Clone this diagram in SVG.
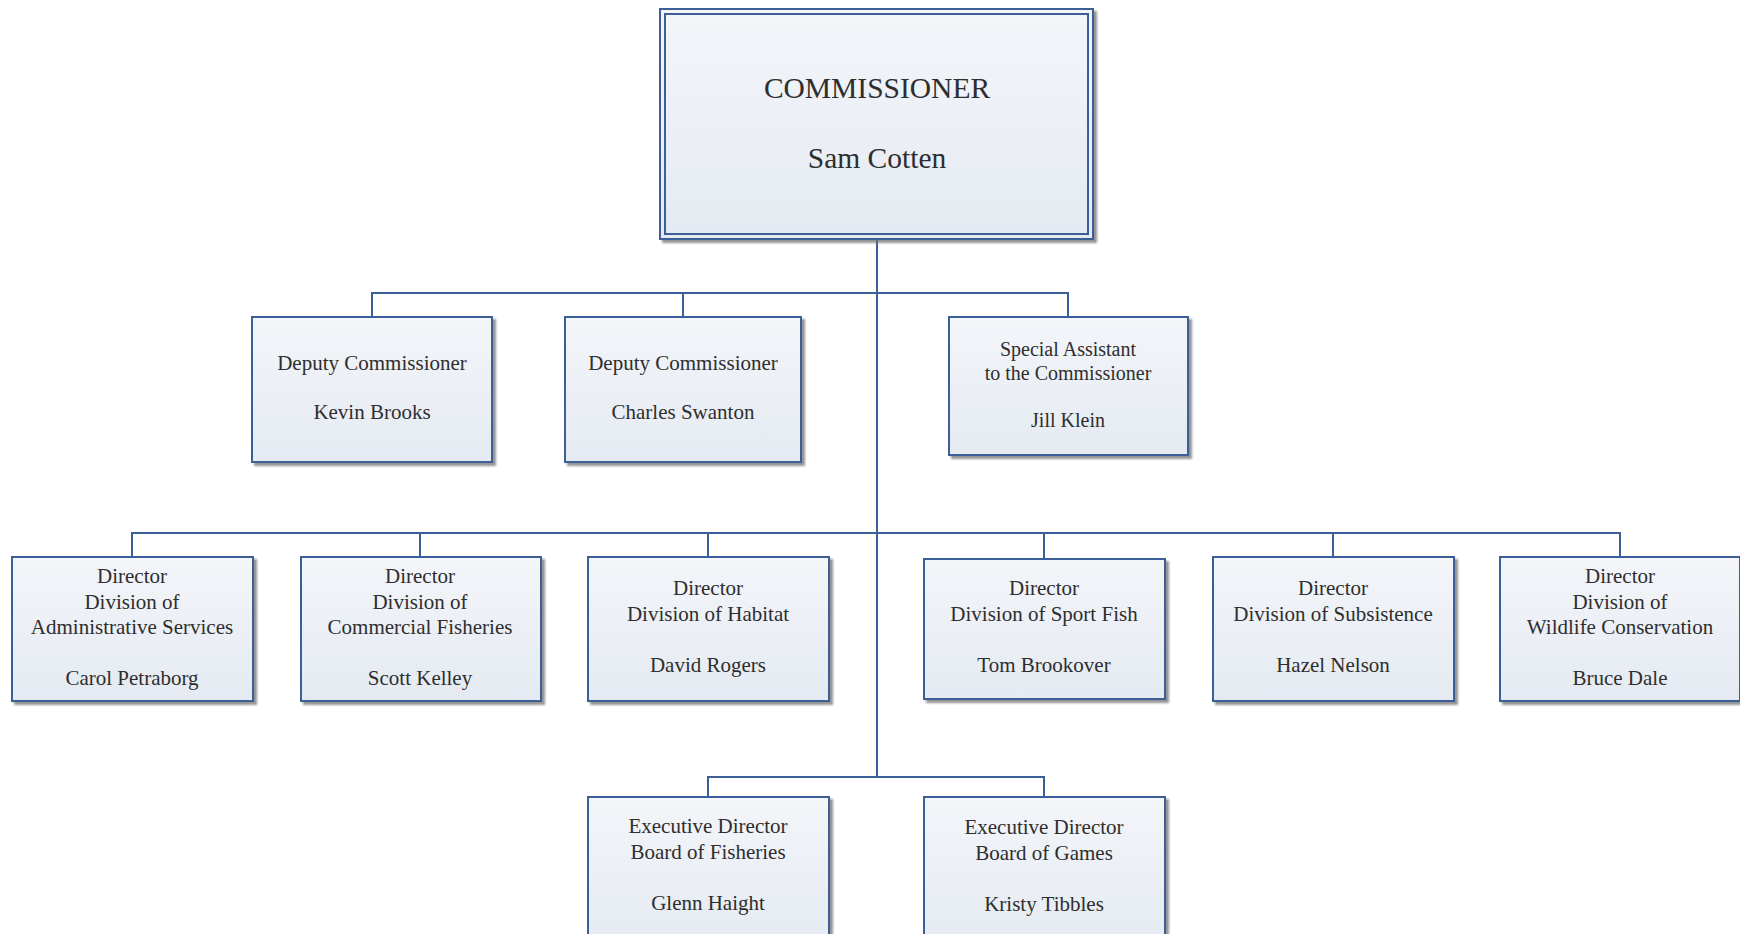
<svg xmlns="http://www.w3.org/2000/svg" width="1740" height="934" viewBox="0 0 1740 934">
<defs>
<linearGradient id="fillg" x1="0" y1="0" x2="0" y2="1">
<stop offset="0" stop-color="#f3f5f9"/>
<stop offset="1" stop-color="#e5eaf2"/>
</linearGradient>
<filter id="sh" x="-5%" y="-5%" width="115%" height="115%">
<feDropShadow dx="3" dy="3" stdDeviation="1.2" flood-color="#6f6f6f" flood-opacity="0.75"/>
</filter>
</defs>
<style>
.box{fill:url(#fillg);stroke:#3b5f96;stroke-width:2;filter:url(#sh)}
.inner{fill:none;stroke:#3b5f96;stroke-width:2}
.t{font-family:"Liberation Serif","Times New Roman",serif;fill:#2e2e2e;text-anchor:middle}
.t21{font-size:21px}
.t20{font-size:20px}
.t28{font-size:29.5px}
.conn{fill:none;stroke:#3b5f96;stroke-width:2}
</style>
<rect width="1740" height="934" fill="#ffffff"/>
<g id="connectors">
<path class="conn" d="M877 239 V777"/>
<path class="conn" d="M372 317 V293 H1068 V317"/>
<path class="conn" d="M683 293 V317"/>
<path class="conn" d="M132 557 V533 H1620 V557"/>
<path class="conn" d="M420 533 V557 M708 533 V557 M1044 533 V559 M1333 533 V557"/>
<path class="conn" d="M708 797 V777 H1044 V797"/>
</g>
<g id="commissioner">
<rect class="box" x="660" y="9" width="433" height="230"/>
<rect class="inner" x="665" y="14" width="423" height="220"/>
<text class="t t28" x="877" y="98">COMMISSIONER</text>
<text class="t t28" x="877" y="168">Sam Cotten</text>
</g>
<g id="deputy-brooks">
<rect class="box" x="252" y="317" width="240" height="145"/>
<text class="t t21" x="372" y="370">Deputy Commissioner</text>
<text class="t t21" x="372" y="419">Kevin Brooks</text>
</g>
<g id="deputy-swanton">
<rect class="box" x="565" y="317" width="236" height="145"/>
<text class="t t21" x="683" y="370">Deputy Commissioner</text>
<text class="t t21" x="683" y="419">Charles Swanton</text>
</g>
<g id="special-assistant">
<rect class="box" x="949" y="317" width="239" height="138"/>
<text class="t t20" x="1068" y="356">Special Assistant</text>
<text class="t t20" x="1068" y="380">to the Commissioner</text>
<text class="t t20" x="1068" y="427">Jill Klein</text>
</g>
<g id="dir-admin">
<rect class="box" x="12" y="557" width="241" height="144"/>
<text class="t t21" x="132" y="583">Director</text>
<text class="t t21" x="132" y="609">Division of</text>
<text class="t t21" x="132" y="634">Administrative Services</text>
<text class="t t21" x="132" y="685">Carol Petraborg</text>
</g>
<g id="dir-commercial">
<rect class="box" x="301" y="557" width="240" height="144"/>
<text class="t t21" x="420" y="583">Director</text>
<text class="t t21" x="420" y="609">Division of</text>
<text class="t t21" x="420" y="634">Commercial Fisheries</text>
<text class="t t21" x="420" y="685">Scott Kelley</text>
</g>
<g id="dir-habitat">
<rect class="box" x="588" y="557" width="241" height="144"/>
<text class="t t21" x="708" y="595">Director</text>
<text class="t t21" x="708" y="621">Division of Habitat</text>
<text class="t t21" x="708" y="672">David Rogers</text>
</g>
<g id="dir-sportfish">
<rect class="box" x="924" y="559" width="241" height="140"/>
<text class="t t21" x="1044" y="595">Director</text>
<text class="t t21" x="1044" y="621">Division of Sport Fish</text>
<text class="t t21" x="1044" y="672">Tom Brookover</text>
</g>
<g id="dir-subsistence">
<rect class="box" x="1213" y="557" width="241" height="144"/>
<text class="t t21" x="1333" y="595">Director</text>
<text class="t t21" x="1333" y="621">Division of Subsistence</text>
<text class="t t21" x="1333" y="672">Hazel Nelson</text>
</g>
<g id="dir-wildlife">
<rect class="box" x="1500" y="557" width="240" height="144"/>
<text class="t t21" x="1620" y="583">Director</text>
<text class="t t21" x="1620" y="609">Division of</text>
<text class="t t21" x="1620" y="634">Wildlife Conservation</text>
<text class="t t21" x="1620" y="685">Bruce Dale</text>
</g>
<g id="exec-fisheries">
<rect class="box" x="588" y="797" width="241" height="150"/>
<text class="t t21" x="708" y="833">Executive Director</text>
<text class="t t21" x="708" y="859">Board of Fisheries</text>
<text class="t t21" x="708" y="910">Glenn Haight</text>
</g>
<g id="exec-games">
<rect class="box" x="924" y="797" width="241" height="150"/>
<text class="t t21" x="1044" y="834">Executive Director</text>
<text class="t t21" x="1044" y="860">Board of Games</text>
<text class="t t21" x="1044" y="911">Kristy Tibbles</text>
</g>
</svg>
